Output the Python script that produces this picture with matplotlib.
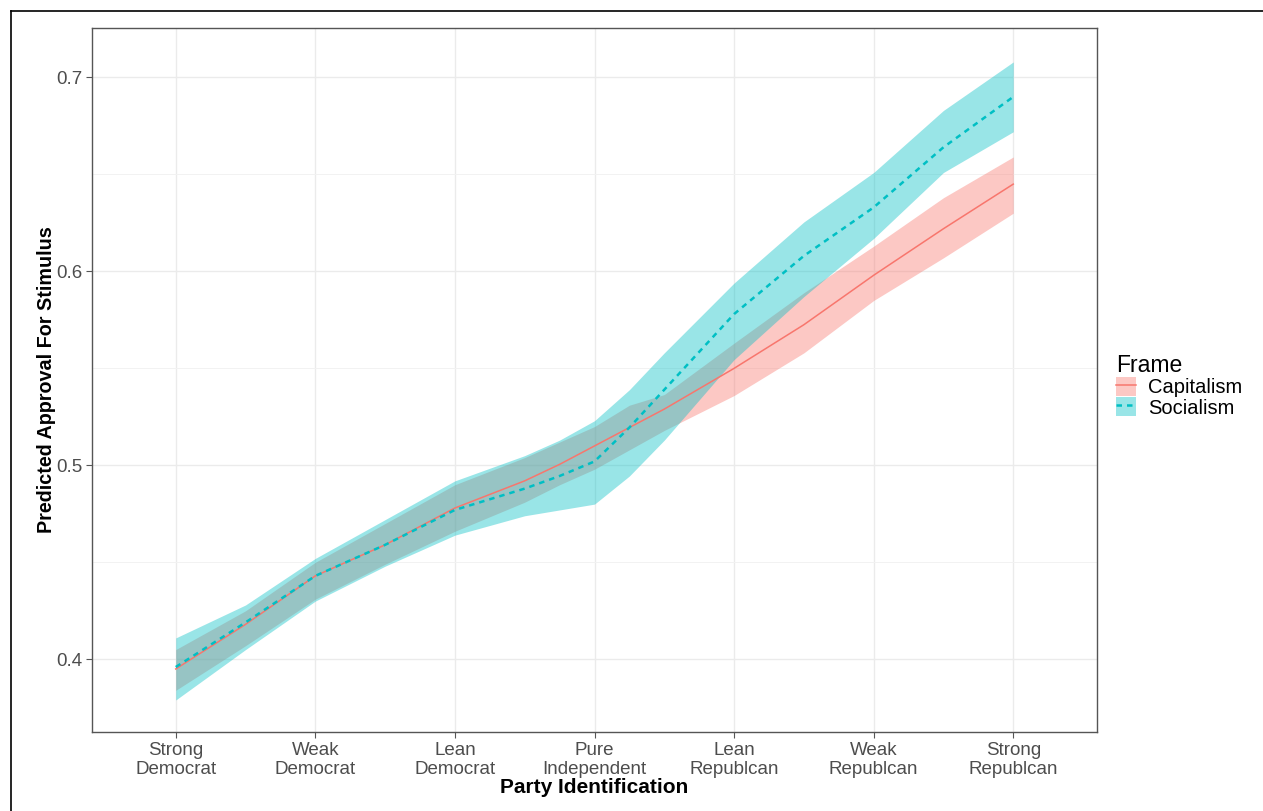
import matplotlib
matplotlib.use("Agg")
import matplotlib.pyplot as plt
from matplotlib.lines import Line2D
from matplotlib.patches import Patch

plt.rcParams['font.family'] = ['Liberation Sans', 'DejaVu Sans']

# party id positions (1 = strong dem ... 7 = strong rep)
party_x = [1, 1.5, 2, 2.5, 3, 3.5, 3.75, 4, 4.25, 4.5, 5, 5.5, 6, 6.5, 7]
party_labels = ["Strong\nDemocrat", "Weak\nDemocrat", "Lean\nDemocrat", "Pure\nIndependent",
                "Lean\nRepublcan", "Weak\nRepublcan", "Strong\nRepublcan"]

cap_fit = [0.395, 0.418, 0.443, 0.459, 0.478, 0.492, 0.5005, 0.510, 0.5195, 0.529, 0.550, 0.5725, 0.598, 0.622, 0.645]
cap_lo = [0.384, 0.407, 0.431, 0.449, 0.466, 0.481, 0.490, 0.498, 0.508, 0.518, 0.536, 0.558, 0.585, 0.607, 0.630]
cap_hi = [0.405, 0.425, 0.450, 0.470, 0.490, 0.504, 0.512, 0.520, 0.531, 0.5365, 0.563, 0.589, 0.613, 0.638, 0.659]

soc_fit = [0.396, 0.419, 0.443, 0.459, 0.477, 0.488, 0.4945, 0.502, 0.5195, 0.539, 0.578, 0.608, 0.633, 0.664, 0.690]
soc_lo = [0.379, 0.405, 0.430, 0.448, 0.464, 0.474, 0.477, 0.480, 0.4945, 0.513, 0.5545, 0.587, 0.617, 0.651, 0.672]
soc_hi = [0.411, 0.428, 0.452, 0.472, 0.492, 0.505, 0.513, 0.523, 0.539, 0.558, 0.594, 0.6255, 0.651, 0.683, 0.708]

red = "#F8766D"
cyan = "#00BFC4"

fig = plt.figure(figsize=(12.63, 8.11), dpi=100)
ax = fig.add_axes([92/1263, 1-732/811, (1097-92)/1263, (732-28)/811])

ax.fill_between(party_x, cap_lo, cap_hi, color=red, alpha=0.4, lw=0)
ax.fill_between(party_x, soc_lo, soc_hi, color=cyan, alpha=0.4, lw=0)
ax.plot(party_x, cap_fit, color=red, lw=1.1)
ax.plot(party_x, soc_fit, color=cyan, lw=1.8, dashes=(2.2, 2.0))

ax.set_xlim(0.4, 7.6)
ax.set_ylim(0.3625, 0.7255)
ax.set_xticks(range(1, 8))
ax.set_xticklabels(party_labels)
ax.set_yticks([0.4, 0.5, 0.6, 0.7])
ax.set_yticklabels(["0.4", "0.5", "0.6", "0.7"])
ax.set_yticks([0.45, 0.55, 0.65], minor=True)
ax.grid(True, which='major', color='#EBEBEB', lw=1.0)
ax.grid(True, which='minor', axis='y', color='#F2F2F2', lw=0.7)
ax.set_axisbelow(True)
ax.tick_params(which='major', length=4, color='#555555', labelsize=13.5, labelcolor='#4D4D4D', pad=3)
ax.tick_params(which='minor', length=0)
for s in ax.spines.values():
    s.set_color('#555555')
    s.set_linewidth(1.0)

ax.set_xlabel("Party Identification", fontsize=15, fontweight='bold', labelpad=0)
ax.set_ylabel("Predicted Approval For Stimulus", fontsize=14.2, fontweight='bold', labelpad=0)

handles = [(Patch(facecolor=red, alpha=0.4, lw=0), Line2D([], [], color=red, lw=1.1)),
           (Patch(facecolor=cyan, alpha=0.4, lw=0), Line2D([], [], color=cyan, lw=1.8, dashes=(2.2, 2.0)))]
leg = fig.legend(handles, ["Capitalism", "Socialism"], title="Frame", loc='upper left',
                 bbox_to_anchor=(1102/1263, 1-340/811), frameon=False, fontsize=14.5,
                 title_fontsize=16.5, handlelength=1.0, handleheight=1.05, labelspacing=0,
                 handletextpad=0.6, alignment='left', borderaxespad=0.3)

# screenshot frame (left and top edges)
fig.add_artist(Line2D([11/1263, 11/1263], [0, 1-11/811], color='black', lw=1.2))
fig.add_artist(Line2D([11/1263, 1], [1-11/811, 1-11/811], color='black', lw=1.2))

fig.savefig("out.png", dpi=100)
